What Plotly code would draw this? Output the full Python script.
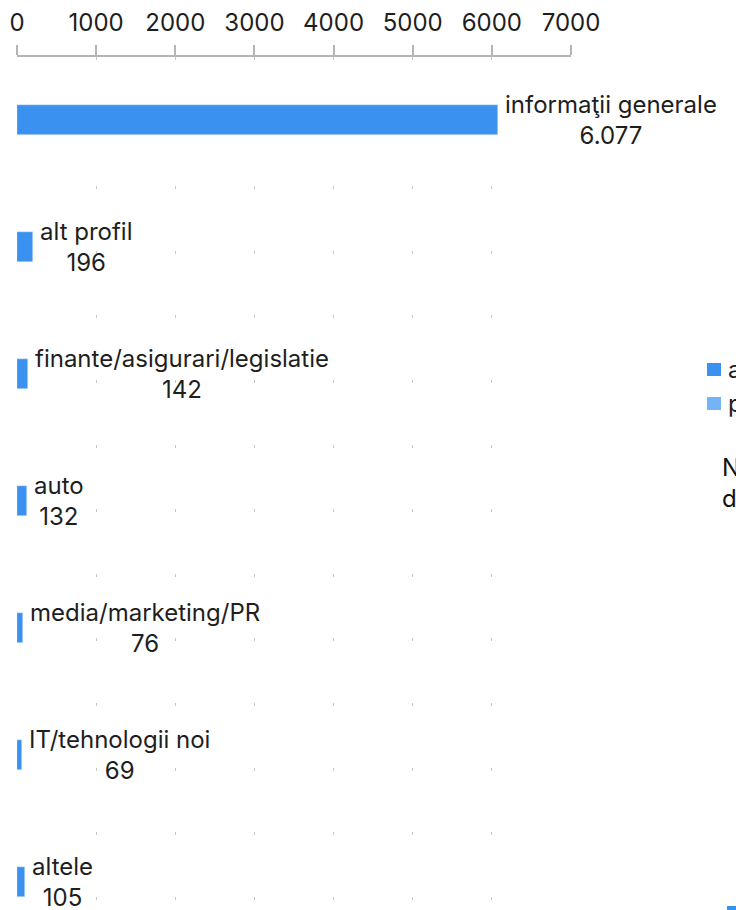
"""Horizontal bar chart: anunturi pe categorii."""

import plotly.graph_objects as go

categories = [
    "informaţii generale",
    "alt profil",
    "finante/asigurari/legislatie",
    "auto",
    "media/marketing/PR",
    "IT/tehnologii noi",
    "altele",
]
values = [6077, 196, 142, 132, 76, 69, 105]
x_ticks = [0, 1000, 2000, 3000, 4000, 5000, 6000, 7000]
legend_names = ["anunţuri", "profile"]
side_note = "Număr<br>de anunţuri"

BAR_COLOR = "#3A91F0"
BAR_COLOR_LIGHT = "#74B3F5"
AXIS_GRAY = "#B5B5B5"
TEXT_COLOR = "#1E1E1E"
FONT = "Inter"
FS = 24

W, H = 736, 910
PLOT_L, PLOT_R, PLOT_T = 17, 571, 57
ROW_PX = 126.9


def px_x(x):
    """Pixel x -> paper x."""
    return (x - PLOT_L) / (PLOT_R - PLOT_L)


def px_y(y):
    """Pixel y -> paper y."""
    return (H - y) / (H - PLOT_T)


def fmt(v):
    return f"{v:,}".replace(",", ".")


fig = go.Figure()
fig.add_trace(go.Bar(
    y=categories, x=values,
    orientation="h",
    marker_color=BAR_COLOR,
    width=0.236,
    showlegend=False,
    hoverinfo="skip",
))

# value labels at the bar end, category name over the value
for cat, val in zip(categories, values):
    fig.add_annotation(
        x=val, y=cat, xref="x", yref="y",
        text=f"{cat}<br>{fmt(val)}",
        showarrow=False, xanchor="left", yanchor="middle",
        align="center", xshift=5,
        font=dict(family=FONT, size=FS, color=TEXT_COLOR),
    )

# legend (cut off by the right edge)
for i, (name, col) in enumerate(zip(legend_names, [BAR_COLOR, BAR_COLOR_LIGHT])):
    top = 363 + i * 34
    fig.add_shape(
        type="rect", xref="paper", yref="paper",
        x0=px_x(707), x1=px_x(721), y0=px_y(top + 13), y1=px_y(top),
        fillcolor=col, line_width=0,
    )
    fig.add_annotation(
        x=px_x(726), y=px_y(top + 6.5), xref="paper", yref="paper",
        text=name, showarrow=False, xanchor="left", yanchor="middle",
        font=dict(family=FONT, size=FS, color=TEXT_COLOR),
    )

fig.add_annotation(
    x=px_x(720), y=px_y(483), xref="paper", yref="paper",
    text=side_note, showarrow=False, xanchor="left", yanchor="middle",
    align="left", font=dict(family=FONT, size=FS, color="#111111"),
)

# bit of the next chart peeking in at the bottom right
fig.add_shape(
    type="rect", xref="paper", yref="paper",
    x0=px_x(727), x1=px_x(740), y0=px_y(912), y1=px_y(906),
    fillcolor=BAR_COLOR, line_width=0,
)

fig.update_layout(
    width=W, height=H,
    plot_bgcolor="#ffffff",
    paper_bgcolor="#ffffff",
    font=dict(family=FONT, color=TEXT_COLOR, size=FS),
    margin=dict(l=PLOT_L, r=W - PLOT_R, t=PLOT_T, b=0, autoexpand=False),
    showlegend=False,
    bargap=0,
)
fig.update_xaxes(
    side="top",
    range=[0, 7000],
    tickvals=x_ticks,
    ticktext=[str(t) for t in x_ticks],
    showline=True, linecolor=AXIS_GRAY, linewidth=2,
    ticks="outside", ticklen=10, tickwidth=2, tickcolor=AXIS_GRAY,
    tickfont=dict(family=FONT, size=FS, color=TEXT_COLOR),
    ticklabelstandoff=4,
    showgrid=True, gridcolor="#C8C8C8", gridwidth=1, griddash="3px,61.6px",
    zeroline=False,
    fixedrange=True,
)
fig.update_yaxes(
    type="category",
    categoryorder="array", categoryarray=categories,
    range=[-0.5 + (H - PLOT_T) / ROW_PX, -0.5],
    showticklabels=False, showgrid=False, zeroline=False, showline=False,
    ticks="",
    fixedrange=True,
)

# figure fills the window exactly: drop the body margin, no scrollbars
fig.write_html(
    "out.html",
    config={"displayModeBar": False},
    post_script="document.body.style.margin='0';"
                "document.documentElement.style.overflow='hidden';"
                "document.body.style.overflow='hidden';",
)
